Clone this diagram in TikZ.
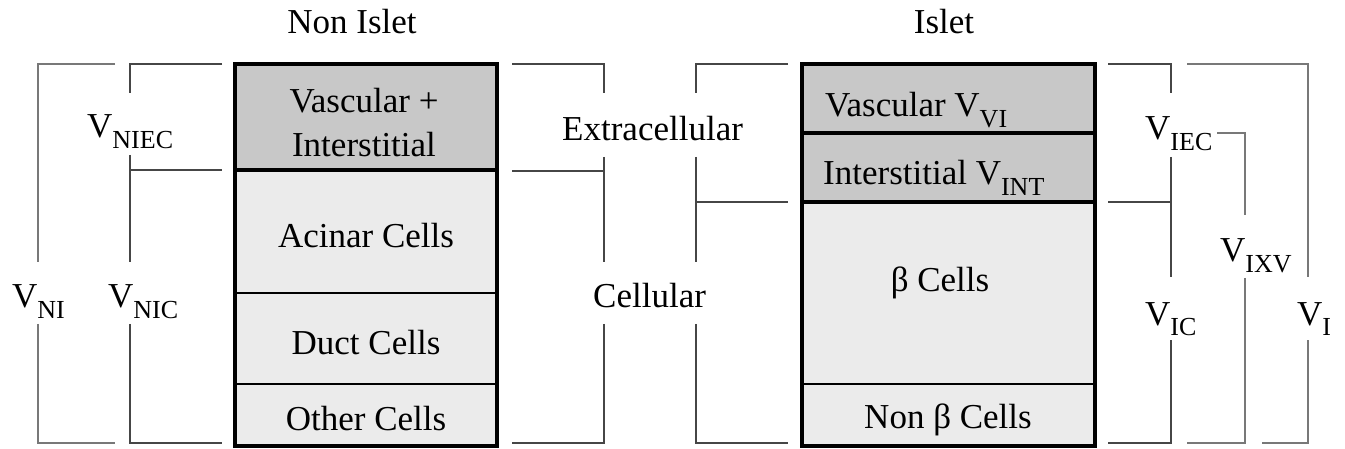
\documentclass[tikz,border=0pt]{standalone}
\usepackage{fontspec}
\setmainfont{Liberation Serif}
\definecolor{darkfill}{RGB}{200,200,200}
\definecolor{palefill}{RGB}{235,235,235}
\definecolor{brk}{RGB}{70,70,70}
\definecolor{brklight}{RGB}{120,120,120}
% lowered subscript in the style of a word processor
\newcommand{\lowsub}[1]{\raisebox{-0.31em}{\fontsize{26}{26}\selectfont #1}}
\begin{document}
\begin{tikzpicture}[x=1pt,y=-1pt,
  every node/.style={inner sep=0pt,font=\fontsize{35}{44}\selectfont},
  outer/.style={line width=4pt},
  heavydiv/.style={line width=4pt},
  lightdiv/.style={line width=1.3pt},
  bracket/.style={draw=brk,line width=1.5pt},
  bracketlt/.style={draw=brklight,line width=1.5pt}]
\useasboundingbox (0,0) rectangle (1345,449);

% titles
\node[anchor=base] (tnon) at (352,34) {Non Islet};
\node[anchor=base] (tisl) at (944,34) {Islet};

% non-islet column
\fill[darkfill] (235,64) rectangle (497,170);
\fill[palefill] (235,170) rectangle (497,446);
\draw[lightdiv] (235,293) -- (497,293);
\draw[lightdiv] (235,384) -- (497,384);
\draw[heavydiv] (235,170) -- (497,170);
\draw[outer] (235,64) rectangle (497,446);
\node[align=center] (nvi) at (364,123) {Vascular +\\Interstitial};
\node[anchor=base] (nac) at (366,248) {Acinar Cells};
\node[anchor=base] (ndu) at (366,355) {Duct Cells};
\node[anchor=base] (not) at (366,430) {Other Cells};

% islet column
\fill[darkfill] (802,64) rectangle (1095,202);
\fill[palefill] (802,202) rectangle (1095,446);
\draw[lightdiv] (802,384) -- (1095,384);
\draw[heavydiv] (802,133) -- (1095,133);
\draw[heavydiv] (802,202) -- (1095,202);
\draw[outer] (802,64) rectangle (1095,446);
\node[anchor=base west] (ivs) at (825,117) {Vascular V\lowsub{VI}};
\node[anchor=base west] (iin) at (823,185) {Interstitial V\lowsub{INT}};
\node[anchor=base] (ibe) at (940,292) {β Cells};
\node[anchor=base] (inb) at (948,428) {Non β Cells};

% left-hand volume labels
\node[anchor=base west] (vni) at (12,308) {V\lowsub{NI}};
\node[anchor=base west] (vniec) at (87,138) {V\lowsub{NIEC}};
\node[anchor=base west] (vnic) at (108,308) {V\lowsub{NIC}};
\draw[bracketlt] (115,64) -- (38,64) -- (38,262);
\draw[bracketlt] (38,324) -- (38,443) -- (115,443);
\draw[bracket] (222,64) -- (130,64) -- (130,93);
\draw[bracket] (130,155) -- (130,262);
\draw[bracket] (130,170) -- (222,170);
\draw[bracket] (130,324) -- (130,443) -- (222,443);

% compartments between the columns
\node[anchor=base west] (extra) at (562,141) {Extracellular};
\node[anchor=base west] (cell) at (593,308) {Cellular};
\draw[bracket] (512,64) -- (604,64) -- (604,93);
\draw[bracket] (604,157) -- (604,262);
\draw[bracket] (512,171) -- (604,171);
\draw[bracket] (604,324) -- (604,443) -- (512,443);
\draw[bracket] (788,64) -- (696,64) -- (696,93);
\draw[bracket] (696,157) -- (696,262);
\draw[bracket] (696,202) -- (788,202);
\draw[bracket] (696,324) -- (696,443) -- (788,443);

% right-hand volume labels
\node[anchor=base west] (viec) at (1145,140) {V\lowsub{IEC}};
\node[anchor=base west] (vixv) at (1220,262) {V\lowsub{IXV}};
\node[anchor=base west] (vic) at (1145,325) {V\lowsub{IC}};
\node[anchor=base west] (vi) at (1297,325) {V\lowsub{I}};
\draw[bracket] (1108,64) -- (1171,64) -- (1171,93);
\draw[bracket] (1171,157) -- (1171,277);
\draw[bracket] (1108,202) -- (1171,202);
\draw[bracket] (1171,340) -- (1171,443) -- (1108,443);
\draw[bracketlt] (1217,133) -- (1245,133) -- (1245,215);
\draw[bracketlt] (1245,278) -- (1245,443) -- (1187,443);
\draw[bracketlt] (1187,64) -- (1308,64) -- (1308,277);
\draw[bracketlt] (1308,340) -- (1308,443) -- (1262,443);
\end{tikzpicture}
\end{document}
